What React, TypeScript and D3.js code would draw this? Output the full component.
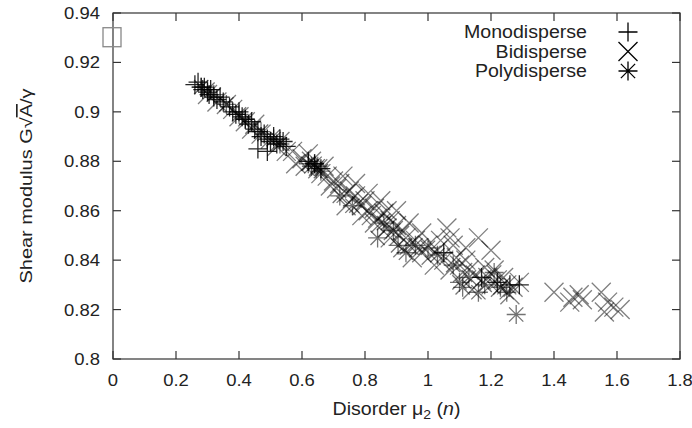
import React from "react";
import * as d3 from "d3";

// Monodisperse (+)
const monoX = [0.26, 0.27, 0.28, 0.285, 0.29, 0.3, 0.305, 0.31, 0.32, 0.33, 0.34, 0.35, 0.37, 0.38, 0.39, 0.4, 0.41, 0.42, 0.43, 0.44, 0.45, 0.46, 0.47, 0.48, 0.49, 0.5, 0.51, 0.52, 0.53, 0.54, 0.46, 0.49, 0.55, 0.62, 0.64, 0.66, 1.05, 1.17, 1.22, 1.26, 1.29];
const monoY = [0.911, 0.912, 0.91, 0.909, 0.91, 0.908, 0.907, 0.909, 0.906, 0.905, 0.906, 0.904, 0.902, 0.9, 0.899, 0.9, 0.898, 0.897, 0.895, 0.896, 0.893, 0.892, 0.89, 0.891, 0.889, 0.888, 0.89, 0.887, 0.889, 0.888, 0.885, 0.884, 0.886, 0.88, 0.879, 0.877, 0.843, 0.833, 0.831, 0.83, 0.83];

// Bidisperse (x)
const biX = [0.3, 0.33, 0.36, 0.38, 0.4, 0.42, 0.44, 0.45, 0.47, 0.5, 0.52, 0.53, 0.55, 0.57, 0.6, 0.61, 0.63, 0.65, 0.66, 0.68, 0.7, 0.71, 0.72, 0.74, 0.75, 0.76, 0.77, 0.78, 0.79, 0.8, 0.81, 0.82, 0.83, 0.84, 0.85, 0.86, 0.87, 0.88, 0.89, 0.9, 0.91, 0.92, 0.93, 0.94, 0.96, 0.97, 0.98, 1.0, 1.01, 1.03, 1.05, 1.06, 1.07, 1.08, 1.09, 1.1, 1.11, 1.12, 1.13, 1.15, 1.16, 1.17, 1.18, 1.19, 1.2, 1.21, 1.22, 1.23, 1.24, 1.25, 1.27, 1.29, 1.4, 1.45, 1.46, 1.48, 1.49, 1.55, 1.57, 1.59, 1.56, 1.61,
  0.58, 0.62, 0.67, 0.69, 0.73, 0.74, 0.77, 0.79, 0.81, 0.83, 0.85, 0.87, 0.88, 0.9, 0.92, 0.94, 0.95, 0.98, 1.02, 1.04, 1.07, 1.12, 1.14, 1.2, 1.26];
const biY = [0.907, 0.904, 0.903, 0.901, 0.898, 0.896, 0.893, 0.895, 0.891, 0.889, 0.886, 0.888, 0.884, 0.884, 0.881, 0.878, 0.88, 0.877, 0.875, 0.874, 0.872, 0.869, 0.871, 0.867, 0.868, 0.865, 0.866, 0.863, 0.862, 0.864, 0.86, 0.858, 0.861, 0.857, 0.855, 0.859, 0.853, 0.856, 0.852, 0.854, 0.85, 0.852, 0.849, 0.846, 0.848, 0.845, 0.843, 0.846, 0.842, 0.844, 0.84, 0.853, 0.849, 0.846, 0.841, 0.838, 0.835, 0.84, 0.836, 0.834, 0.849, 0.832, 0.837, 0.833, 0.83, 0.836, 0.832, 0.829, 0.833, 0.83, 0.829, 0.831, 0.827, 0.823, 0.825, 0.826, 0.824, 0.827, 0.823, 0.821, 0.819, 0.82,
  0.879, 0.883, 0.878, 0.87, 0.874, 0.862, 0.871, 0.858, 0.867, 0.855, 0.864, 0.86, 0.849, 0.86, 0.845, 0.855, 0.841, 0.851, 0.838, 0.848, 0.836, 0.845, 0.828, 0.844, 0.826];

// Polydisperse (*)
const polyX = [0.28, 0.3, 0.32, 0.36, 0.4, 0.42, 0.47, 0.51, 0.53, 0.62, 0.63, 0.64, 0.645, 0.65, 0.66, 0.72, 0.76, 0.84, 0.86, 0.89, 0.905, 0.93, 0.96, 1.0, 1.03, 1.08, 1.1, 1.11, 1.13, 1.16, 1.18, 1.21, 1.23, 1.25, 1.28];
const polyY = [0.91, 0.909, 0.907, 0.903, 0.899, 0.897, 0.892, 0.889, 0.887, 0.879, 0.878, 0.879, 0.877, 0.878, 0.876, 0.866, 0.862, 0.849, 0.855, 0.852, 0.846, 0.843, 0.846, 0.845, 0.842, 0.838, 0.831, 0.829, 0.833, 0.827, 0.83, 0.835, 0.829, 0.827, 0.818];

// reference point at mu2 = 0
const refX = [0];
const refY = [0.93];

const xTicks = [0, 0.2, 0.4, 0.6, 0.8, 1, 1.2, 1.4, 1.6, 1.8];
const yTicks = [0.8, 0.82, 0.84, 0.86, 0.88, 0.9, 0.92, 0.94];

const legendNames = ["Monodisperse", "Bidisperse", "Polydisperse"];

const margin = { top: 13, right: 12, bottom: 69, left: 113 };
const W = 692;
const H = 428;
const font = "'Liberation Sans', Arial, sans-serif";
const fs = 16.5;
const sx = 1.12; // labels in the reference look a bit wide

const s = 9.5;
const plusPath = `M${-s},0H${s}M0,${-s}V${s}`;
const crossPath = `M${-s},${-s}L${s},${s}M${-s},${s}L${s},${-s}`;
const starPath = plusPath + `M${-s * 0.75},${-s * 0.75}L${s * 0.75},${s * 0.75}M${-s * 0.75},${s * 0.75}L${s * 0.75},${-s * 0.75}`;

const markers = [
  { path: plusPath, op: 0.85, xs: monoX, ys: monoY },
  { path: crossPath, op: 0.5, xs: biX, ys: biY },
  { path: starPath, op: 0.55, xs: polyX, ys: polyY },
];

const Label = ({ x, y, anchor, children, size }: any) => (
  <text transform={`translate(${x},${y}) scale(${sx},1)`} textAnchor={anchor} fontSize={size}>{children}</text>
);

export default function App() {
  const x = d3.scaleLinear().domain([0, 1.8]).range([margin.left, W - margin.right]);
  const y = d3.scaleLinear().domain([0.8, 0.94]).range([H - margin.bottom, margin.top]);
  const [x0, x1] = x.range();
  const [y0, y1] = y.range();
  const tk = 8;
  const fmt = d3.format("~g");

  return (
    <svg width={W} height={H} style={{ position: "absolute", left: 0, top: 0, background: "#fff" }} fontFamily={font}>
      {/* data */}
      <g fill="none" stroke="#000" strokeWidth={1.3}>
        {[1, 2, 0].map((i) => {
          const m = markers[i];
          return (
            <g key={i} strokeOpacity={m.op}>
              {m.xs.map((v, j) => (
                <path key={j} d={m.path} transform={`translate(${x(v)},${y(m.ys[j])})`} />
              ))}
            </g>
          );
        })}
      </g>

      {/* frame */}
      <rect x={x0} y={y1} width={x1 - x0} height={y0 - y1} fill="none" stroke="#333" strokeWidth={1.2} />
      <g stroke="#333" strokeWidth={1.2}>
        {xTicks.map((t) => (
          <g key={t}>
            <line x1={x(t)} x2={x(t)} y1={y0} y2={y0 - tk} />
            <line x1={x(t)} x2={x(t)} y1={y1} y2={y1 + tk} />
          </g>
        ))}
        {yTicks.map((t) => (
          <g key={t}>
            <line x1={x0} x2={x0 + tk} y1={y(t)} y2={y(t)} />
            <line x1={x1} x2={x1 - tk} y1={y(t)} y2={y(t)} />
          </g>
        ))}
      </g>

      {/* reference square */}
      {refX.map((v, i) => (
        <rect key={i} x={x(v) - 10} y={y(refY[i]) - 10} width={18} height={19} fill="none" stroke="#888" strokeWidth={1.3} />
      ))}

      {/* tick labels */}
      <g fontSize={fs} fill="#222">
        {xTicks.map((t) => (
          <Label key={t} x={x(t)} y={y0 + 27} anchor="middle">{fmt(t)}</Label>
        ))}
        {yTicks.map((t) => (
          <Label key={t} x={x0 - 13} y={y(t) + 6} anchor="end">{fmt(t)}</Label>
        ))}
      </g>

      {/* axis titles */}
      <g fontSize={fs} fill="#222">
        <Label x={(x0 + x1) / 2} y={y0 + 56} anchor="middle" size={17.5}>
          Disorder μ<tspan fontSize={12.5} dy={4}>2</tspan><tspan dy={-4}> (</tspan><tspan fontStyle="italic">n</tspan>)
        </Label>
        <text transform={`translate(32,186) rotate(-90)`} textAnchor="middle" textLength={195} lengthAdjust="spacingAndGlyphs">
          Shear modulus G√<tspan style={{ textDecoration: "overline" }}>A</tspan>/γ
        </text>
      </g>

      {/* legend */}
      <g fill="#222">
        {legendNames.map((n, i) => (
          <g key={n} transform={`translate(0,${32 + i * 19.5})`}>
            <Label x={587} y={6} anchor="end" size={17.5}>{n}</Label>
            <path d={markers[i].path} transform="translate(628,0)" fill="none" stroke="#000" strokeWidth={1.3} />
          </g>
        ))}
      </g>
    </svg>
  );
}
